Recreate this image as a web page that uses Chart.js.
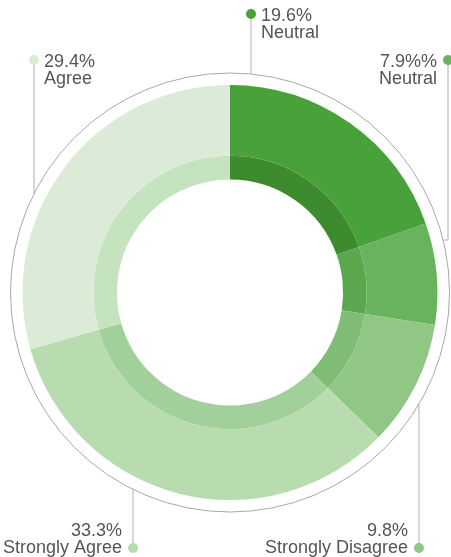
<!DOCTYPE html>
<html>
<head>
<meta charset="utf-8">
<script src="https://cdn.jsdelivr.net/npm/chart.js@4.4.0/dist/chart.umd.min.js"></script>
<style>
  html, body { margin: 0; padding: 0; background: #fff; }
  #wrap { width: 451px; height: 557px; position: relative; }
</style>
</head>
<body>
<div id="wrap"><canvas id="donut"></canvas></div>
<script>
// Data (clockwise from 12 o'clock)
const categories = ['Neutral', 'Neutral', 'Strongly Disagree', 'Strongly Agree', 'Agree'];
const values = [19.6, 7.9, 9.8, 33.3, 29.4];
const valueLabels = ['19.6%', '7.9%%', '9.8%', '33.3%', '29.4%'];

const outerColors = ['#49a139', '#6ab35e', '#90c785', '#b8dbb0', '#dbebd7'];
const innerColors = ['#3d8a2f', '#5aa74e', '#7fbd74', '#a2d09a', '#c6e3c0'];

// Where each callout sits (dot position, text side). Line runs from dot to outer ring.
const callouts = [
    { dotX: 251, dotY: 14, align: 'left' },
    { dotX: 448, dotY: 60, align: 'right', bendY: 240 },
    { dotX: 419, dotY: 548, align: 'right', below: true },
    { dotX: 133, dotY: 548, align: 'right', below: true },
    { dotX: 34, dotY: 60, align: 'left' }
];

const ringGap = 12;

const calloutPlugin = {
    id: 'callouts',
    afterDraw(chart) {
        const ctx = chart.ctx;
        const arc = chart.getDatasetMeta(0).data[0];
        const cx = arc.x, cy = arc.y;
        const R = arc.outerRadius + ringGap;

        ctx.save();
        // thin outer ring
        ctx.strokeStyle = '#a8a8a8';
        ctx.lineWidth = 1;
        ctx.beginPath();
        ctx.arc(cx, cy, R, 0, Math.PI * 2);
        ctx.stroke();

        ctx.font = '18px "Liberation Sans", Arial, sans-serif';
        callouts.forEach((c, i) => {
            // leader line
            ctx.strokeStyle = '#b0b0b0';
            ctx.beginPath();
            ctx.moveTo(c.dotX, c.dotY);
            if (c.bendY !== undefined) {
                const dy = c.bendY - cy;
                const ex = cx + Math.sqrt(R * R - dy * dy);
                ctx.lineTo(c.dotX, c.bendY);
                ctx.lineTo(ex, c.bendY);
            } else {
                const dx = c.dotX - cx;
                const h = Math.sqrt(Math.max(R * R - dx * dx, 0));
                ctx.lineTo(c.dotX, c.below ? cy + h : cy - h);
            }
            ctx.stroke();

            // dot
            ctx.fillStyle = outerColors[i];
            ctx.beginPath();
            ctx.arc(c.dotX, c.dotY, 5, 0, Math.PI * 2);
            ctx.fill();

            // text
            ctx.fillStyle = '#555555';
            ctx.textBaseline = 'middle';
            let tx, y1;
            if (c.align === 'left') {
                ctx.textAlign = 'left';
                tx = c.dotX + 10;
            } else {
                ctx.textAlign = 'right';
                tx = c.dotX - 11;
            }
            y1 = c.below ? c.dotY - 17 : c.dotY + 2;
            ctx.fillText(valueLabels[i], tx, y1);
            ctx.fillText(categories[i], tx, y1 + 17);
        });
        ctx.restore();
    }
};

new Chart(document.getElementById('donut').getContext('2d'), {
    type: 'doughnut',
    data: {
        labels: categories,
        datasets: [
            { data: values, backgroundColor: outerColors, borderWidth: 0, weight: 3 },
            { data: values, backgroundColor: innerColors, borderWidth: 0, weight: 1 }
        ]
    },
    options: {
        responsive: true,
        maintainAspectRatio: false,
        animation: false,
        cutout: '54.5%',
        layout: { padding: { left: 22, right: 13, top: 85, bottom: 57 } },
        events: [],
        plugins: {
            legend: { display: false },
            tooltip: { enabled: false }
        }
    },
    plugins: [calloutPlugin]
});
</script>
</body>
</html>
